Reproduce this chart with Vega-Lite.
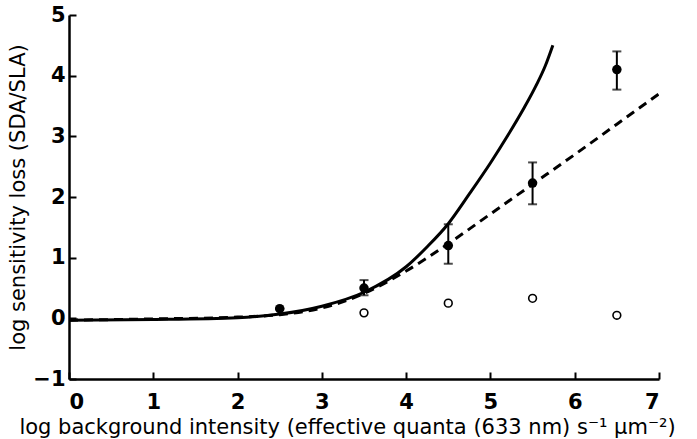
{
  "$schema": "https://vega.github.io/schema/vega-lite/v6.json",
  "width": 590,
  "height": 364,
  "autosize": {"type": "none"},
  "padding": {"left": 69, "top": 15, "right": 38, "bottom": 60},
  "background": "white",
  "config": {
    "view": {"stroke": null},
    "font": "DejaVu Sans",
    "axis": {
      "domainColor": "black",
      "domainWidth": 2.5,
      "tickColor": "black",
      "tickWidth": 2,
      "tickSize": -7,
      "grid": false,
      "format": "d",
      "labelFont": "DejaVu Sans",
      "labelFontWeight": "bold",
      "labelFontSize": 21,
      "labelColor": "black",
      "titleFont": "DejaVu Sans",
      "titleFontWeight": "normal",
      "titleFontSize": 21,
      "titleColor": "black"
    }
  },
  "datasets": {
    "dashed": [
      {"x": 0, "y": -0.03},
      {"x": 1, "y": -0.01},
      {"x": 2, "y": 0.02},
      {"x": 2.5, "y": 0.06},
      {"x": 3, "y": 0.17},
      {"x": 3.5, "y": 0.41},
      {"x": 4, "y": 0.78},
      {"x": 4.5, "y": 1.23},
      {"x": 5, "y": 1.72},
      {"x": 5.5, "y": 2.21},
      {"x": 6, "y": 2.7},
      {"x": 6.5, "y": 3.2},
      {"x": 7, "y": 3.7}
    ],
    "solid": [
      {"x": 0, "y": -0.03},
      {"x": 1, "y": -0.02},
      {"x": 2, "y": 0.01},
      {"x": 2.5, "y": 0.07},
      {"x": 3, "y": 0.2},
      {"x": 3.5, "y": 0.43},
      {"x": 4, "y": 0.85},
      {"x": 4.25, "y": 1.18},
      {"x": 4.5, "y": 1.56},
      {"x": 4.75, "y": 2.05},
      {"x": 5, "y": 2.56},
      {"x": 5.2, "y": 3.0},
      {"x": 5.4, "y": 3.47},
      {"x": 5.55, "y": 3.86},
      {"x": 5.65, "y": 4.16},
      {"x": 5.74, "y": 4.5}
    ],
    "filled": [
      {"x": 2.5, "y": 0.16, "lo": 0.16, "hi": 0.16},
      {"x": 3.5, "y": 0.5, "lo": 0.38, "hi": 0.63},
      {"x": 4.5, "y": 1.2, "lo": 0.9, "hi": 1.55},
      {"x": 5.5, "y": 2.23, "lo": 1.88, "hi": 2.57},
      {"x": 6.5, "y": 4.1, "lo": 3.77, "hi": 4.4}
    ],
    "open": [
      {"x": 3.5, "y": 0.09},
      {"x": 4.5, "y": 0.25},
      {"x": 5.5, "y": 0.33},
      {"x": 6.5, "y": 0.05}
    ]
  },
  "layer": [
    {
      "data": {"name": "dashed"},
      "mark": {"type": "line", "color": "black", "strokeWidth": 3, "strokeDash": [9, 6], "interpolate": "monotone", "clip": true},
      "encoding": {
        "x": {"field": "x", "type": "quantitative", "scale": {"domain": [0, 7], "nice": false},
          "axis": {"values": [0, 1, 2, 3, 4, 5, 6, 7], "labelPadding": 19, "titlePadding": 4, "titleX": 278,
            "title": "log background intensity (effective quanta (633 nm) s⁻¹ μm⁻²)"}},
        "y": {"field": "y", "type": "quantitative", "scale": {"domain": [-1, 5], "nice": false},
          "axis": {"values": [-1, 0, 1, 2, 3, 4, 5], "labelPadding": 11, "titlePadding": 4,
            "title": "log sensitivity loss (SDA/SLA)"}}
      }
    },
    {
      "data": {"name": "solid"},
      "mark": {"type": "line", "color": "black", "strokeWidth": 3, "interpolate": "monotone"},
      "encoding": {
        "x": {"field": "x", "type": "quantitative"},
        "y": {"field": "y", "type": "quantitative"}
      }
    },
    {
      "data": {"name": "filled"},
      "mark": {"type": "rule", "color": "black", "strokeWidth": 2},
      "encoding": {
        "x": {"field": "x", "type": "quantitative"},
        "y": {"field": "lo", "type": "quantitative"},
        "y2": {"field": "hi"}
      }
    },
    {
      "data": {"name": "filled"},
      "mark": {"type": "tick", "color": "black", "orient": "horizontal", "size": 9, "thickness": 2},
      "encoding": {
        "x": {"field": "x", "type": "quantitative"},
        "y": {"field": "lo", "type": "quantitative"}
      }
    },
    {
      "data": {"name": "filled"},
      "mark": {"type": "tick", "color": "black", "orient": "horizontal", "size": 9, "thickness": 2},
      "encoding": {
        "x": {"field": "x", "type": "quantitative"},
        "y": {"field": "hi", "type": "quantitative"}
      }
    },
    {
      "data": {"name": "filled"},
      "mark": {"type": "point", "shape": "circle", "filled": true, "color": "black", "size": 90, "opacity": 1},
      "encoding": {
        "x": {"field": "x", "type": "quantitative"},
        "y": {"field": "y", "type": "quantitative"}
      }
    },
    {
      "data": {"name": "open"},
      "mark": {"type": "point", "shape": "circle", "filled": false, "color": "black", "fill": "white", "size": 60, "strokeWidth": 1.6, "opacity": 1},
      "encoding": {
        "x": {"field": "x", "type": "quantitative"},
        "y": {"field": "y", "type": "quantitative"}
      }
    }
  ]
}
